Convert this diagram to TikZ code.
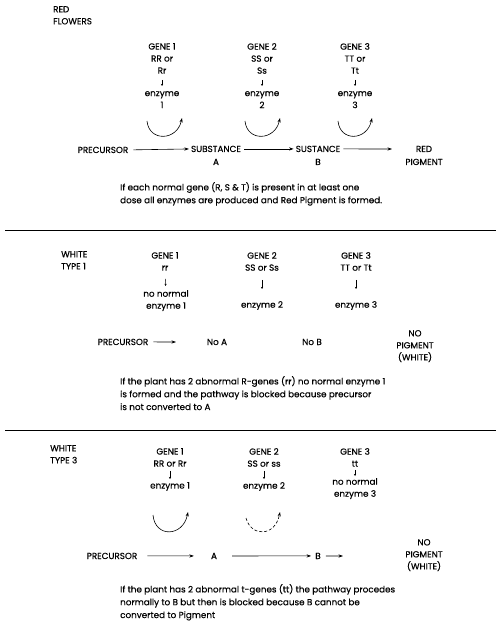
\documentclass[tikz,border=0pt]{standalone}
\usepackage{fontspec}
\setmainfont{Poppins}[FakeBold=0.35]
\usetikzlibrary{arrows.meta}
\begin{document}
\begin{tikzpicture}[x=1pt,y=-1pt,
  every node/.style={inner sep=0pt,font=\fontsize{8.8}{12}\selectfont},
  lbl/.style={align=center,anchor=north},
  row/.style={anchor=base},
  para/.style={align=left,anchor=north west,font=\fontsize{8.8}{12.8}\selectfont},
  flowarr/.style={-{Stealth[length=4.5pt,width=3.2pt]},line width=0.6pt},
  smallarr/.style={-{Stealth[length=2.2pt,width=2.2pt]},line width=0.5pt},
  curvearr/.style={-{Stealth[length=4.5pt,width=3.2pt]},line width=0.6pt},
  sep/.style={line width=0.8pt}]
\useasboundingbox (0,0) rectangle (496,628);

% ---------------- Section 1: RED FLOWERS ----------------
\node[lbl,anchor=north west,align=left] (t1) at (53,6) {RED\\FLOWERS};

\node[lbl] (g11) at (162,43) {GENE 1\\RR or\\Rr};
\node[lbl] (g12) at (262,43) {GENE 2\\SS or\\Ss};
\node[lbl] (g13) at (355,43) {GENE 3\\TT or\\Tt};
\node[lbl] (e11) at (162,91) {enzyme\\1};
\node[lbl] (e12) at (262,91) {enzyme\\2};
\node[lbl] (e13) at (355,91) {enzyme\\3};
\draw[smallarr,shorten <=6pt,shorten >=5pt] (g11) -- (e11);
\draw[smallarr,shorten <=6pt,shorten >=5pt] (g12) -- (e12);
\draw[smallarr,shorten <=6pt,shorten >=5pt] (g13) -- (e13);

\coordinate (c11a) at (147,121); \coordinate (c11b) at (182,118);
\coordinate (c12a) at (245,121); \coordinate (c12b) at (280,118);
\coordinate (c13a) at (338,121); \coordinate (c13b) at (372,118);
\draw[curvearr] (c11a) .. controls (149,142) and (177,141) .. (c11b);
\draw[curvearr] (c12a) .. controls (247,142) and (275,141) .. (c12b);
\draw[curvearr] (c13a) .. controls (340,142) and (367,141) .. (c13b);

\node[row] (p1) at (103,153) {PRECURSOR};
\node[row] (sa) at (216,152) {SUBSTANCE};
\node[row] (sa2) at (216,165) {A};
\node[row] (sb) at (318,152) {SUSTANCE};
\node[row] (sb2) at (318,165) {B};
\node[row] (rp) at (424,152) {RED};
\node[row] (rp2) at (424,165) {PIGMENT};
\coordinate (rpin) at (392,149);
\draw[flowarr,shorten <=5pt,shorten >=2pt] (p1.east) -- (sa.west);
\draw[flowarr,shorten <=3pt,shorten >=2pt] (sa.east) -- (sb.west);
\draw[flowarr,shorten <=3pt] (sb.east) -- (rpin);

\node[para] (d1) at (120,182) {If each normal gene (R, S \& T) is present in at least one\\dose all enzymes are produced and Red Pigment is formed.};

\coordinate (l1a) at (5,230); \coordinate (l1b) at (496,230);
\draw[sep] (l1a) -- (l1b);

% ---------------- Section 2: WHITE TYPE 1 ----------------
\node[lbl,anchor=north west,align=left] (t2) at (61,251) {WHITE\\TYPE 1};

\node[lbl] (g21) at (165,252) {GENE 1\\rr};
\node[lbl] (g22) at (262,252) {GENE 2\\SS or Ss};
\node[lbl] (g23) at (356,252) {GENE 3\\TT or Tt};
\node[lbl] (e21) at (166,290) {no normal\\enzyme 1};
\node[lbl] (e22) at (262,301) {enzyme 2};
\node[lbl] (e23) at (356,301) {enzyme 3};
\draw[smallarr,shorten <=8pt,shorten >=4pt] (g21) -- (e21);
\draw[smallarr,shorten <=9pt,shorten >=12pt] (g22) -- (e22);
\draw[smallarr,shorten <=9pt,shorten >=12pt] (g23) -- (e23);

\node[row] (p2) at (123,345) {PRECURSOR};
\node[row] (na) at (217,345) {No A};
\node[row] (nb) at (312,345) {No B};
\node[lbl] (np2) at (415,330) {NO\\PIGMENT\\(WHITE)};
\coordinate (p2end) at (176,342);
\draw[flowarr,shorten <=5pt] (p2.east) -- (p2end);

\node[para] (d2) at (120,376) {If the plant has 2 abnormal R-genes (rr) no normal enzyme 1\\is formed and the pathway is blocked because precursor\\is not converted to A};

\coordinate (l2a) at (5,430); \coordinate (l2b) at (496,430);
\draw[sep] (l2a) -- (l2b);

% ---------------- Section 3: WHITE TYPE 3 ----------------
\node[lbl,anchor=north west,align=left] (t3) at (50,445) {WHITE\\TYPE 3};

\node[lbl] (g31) at (170,448) {GENE 1\\RR or Rr};
\node[lbl] (g32) at (264,448) {GENE 2\\SS or ss};
\node[lbl] (g33) at (355,448) {GENE 3\\tt};
\node[lbl] (e31) at (170,482) {enzyme 1};
\node[lbl] (e32) at (264,482) {enzyme 2};
\node[lbl] (e33) at (355,478) {no normal\\enzyme 3};
\draw[smallarr,shorten <=4pt,shorten >=3pt] (g31) -- (e31);
\draw[smallarr,shorten <=4pt,shorten >=3pt] (g32) -- (e32);
\draw[smallarr,shorten <=3pt,shorten >=2pt] (g33) -- (e33);

\coordinate (c31a) at (153,515); \coordinate (c31b) at (188,512);
\coordinate (c32a) at (246,518); \coordinate (c32b) at (280,512);
\draw[curvearr] (c31a) .. controls (155,538) and (183,537) .. (c31b);
\draw[curvearr,dash pattern=on 3pt off 2pt] (c32a) .. controls (251,537) and (275,537) .. (c32b);

\node[row] (p3) at (112,559) {PRECURSOR};
\node[row] (a3) at (214,559) {A};
\node[row] (b3) at (318,559) {B};
\node[lbl] (np3) at (424,539) {NO\\PIGMENT\\(WHITE)};
\coordinate (b3end) at (343,556);
\draw[flowarr,shorten <=10pt,shorten >=17pt] (p3.east) -- (a3.west);
\draw[flowarr,shorten <=15pt,shorten >=4pt] (a3.east) -- (b3.west);
\draw[flowarr,shorten <=5pt] (b3.east) -- (b3end);

\node[para] (d3) at (120,584) {If the plant has 2 abnormal t-genes (tt) the pathway procedes\\normally to B but then is blocked because B cannot be\\converted to Pigment};
\end{tikzpicture}
\end{document}
